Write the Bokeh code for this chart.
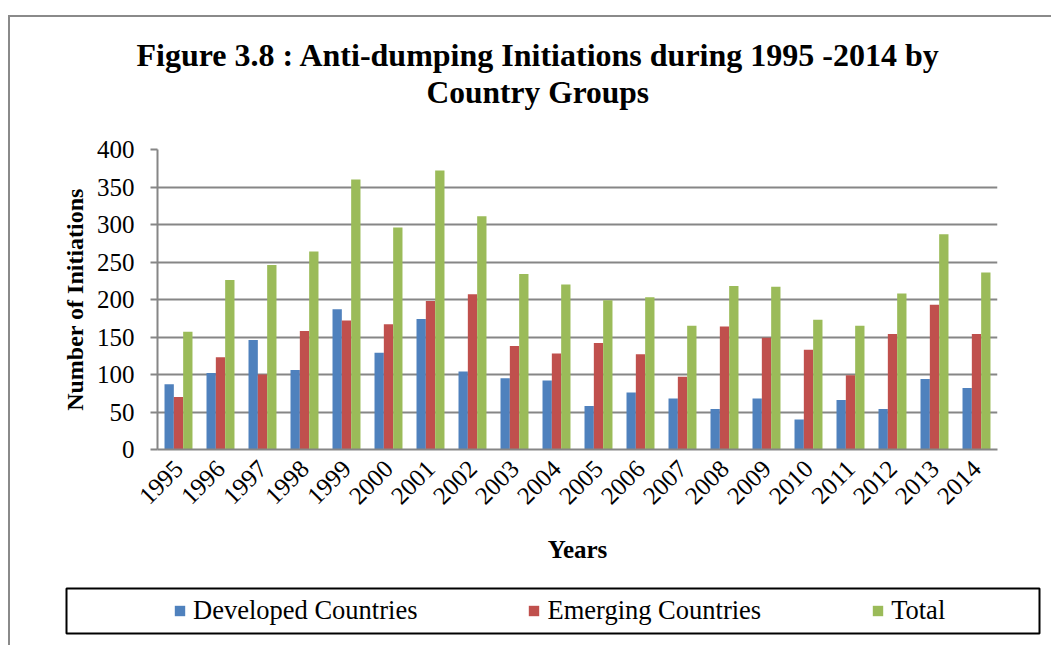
import math
from bokeh.plotting import figure
from bokeh.layouts import column
from bokeh.models import (FactorRange, Range1d, ColumnDataSource, Legend, LegendItem,
                          Title, FixedTicker, LinearAxis)
from bokeh.transform import dodge
from bokeh.embed import file_html
from bokeh.resources import INLINE

# ---- data ----
years = [str(y) for y in range(1995, 2015)]
developed = [87, 102, 146, 106, 187, 129, 174, 104, 95, 92, 58, 76, 68, 54, 68, 40, 66, 54, 94, 82]
emerging = [70, 123, 100, 158, 172, 167, 198, 207, 138, 128, 142, 127, 97, 164, 149, 133, 99, 154, 193, 154]
total = [157, 226, 246, 264, 360, 296, 372, 311, 234, 220, 199, 203, 165, 218, 217, 173, 165, 208, 287, 236]
y_ticks = [0, 50, 100, 150, 200, 250, 300, 350, 400]
series_names = ["Developed Countries", "Emerging Countries", "Total"]

FONT = "Liberation Serif"
BLUE, RED, GREEN = "#4F81BD", "#C0504D", "#9BBB59"
GRID = "#868686"

src = ColumnDataSource(dict(year=years, dev=developed, emg=emerging, tot=total))

p = figure(x_range=FactorRange(factors=years), y_range=Range1d(0, 400),
           width=1041, height=558, output_backend="svg", toolbar_location=None,
           title="Figure 3.8 : Anti-dumping Initiations during 1995 -2014 by",
           min_border_left=147, min_border_right=54, min_border_top=132,
           min_border_bottom=126)
p.frame_align = False
p.background_fill_color = "white"
p.border_fill_color = "white"
p.outline_line_color = None

bw = 0.222
r1 = p.vbar(x=dodge("year", -bw, range=p.x_range), top="dev", width=bw, source=src,
            fill_color=BLUE, line_color=None)
r2 = p.vbar(x=dodge("year", 0.0, range=p.x_range), top="emg", width=bw, source=src,
            fill_color=RED, line_color=None)
r3 = p.vbar(x=dodge("year", bw, range=p.x_range), top="tot", width=bw, source=src,
            fill_color=GREEN, line_color=None)

# axes
p.yaxis.ticker = FixedTicker(ticks=y_ticks)
p.yaxis.major_label_text_font = FONT
p.yaxis.major_label_text_font_size = "25px"
p.yaxis.major_label_text_color = "black"
p.yaxis.major_label_standoff = 16
p.yaxis.axis_label = "Number of Initiations"
p.yaxis.axis_label_text_font = FONT
p.yaxis.axis_label_text_font_size = "24px"
p.yaxis.axis_label_text_font_style = "bold"
p.yaxis.axis_label_text_color = "black"
p.yaxis.axis_label_standoff = 6
p.yaxis.axis_line_color = GRID
p.yaxis.axis_line_width = 2
p.yaxis.major_tick_line_color = GRID
p.yaxis.major_tick_line_width = 2
p.yaxis.major_tick_out = 7
p.yaxis.major_tick_in = 0
p.yaxis.minor_tick_line_color = None

xa = p.below[0]
xa.major_label_orientation = math.pi / 4
xa.major_label_text_font = FONT
xa.major_label_text_font_size = "25px"
xa.major_label_text_color = "black"
xa.major_label_standoff = 9
xa.major_tick_line_color = None
xa.axis_line_color = GRID
xa.axis_line_width = 2
xa.axis_label = "Years"
xa.axis_label_text_font = FONT
xa.axis_label_text_font_size = "25px"
xa.axis_label_text_font_style = "bold"
xa.axis_label_text_color = "black"
xa.axis_label_standoff = 21

p.xgrid.visible = False
p.ygrid.grid_line_color = GRID
p.ygrid.grid_line_width = 2
p.ygrid.ticker = FixedTicker(ticks=y_ticks)

# titles
p.title.text_font = FONT
p.title.text_font_size = "32px"
p.title.text_font_style = "bold"
p.title.align = "left"
p.title.offset = -21
p.title.standoff = 0
p.title.text_color = "black"
t2 = Title(text="Country Groups", align="left", offset=269, standoff=0,
           text_font=FONT, text_font_size="31.5px", text_font_style="bold",
           text_color="black")
try:
    # empty room below the second title line, between it and the plot area
    t2.padding = dict(left=0, right=0, top=0, bottom=40)
except Exception:
    spacer = LinearAxis(ticker=FixedTicker(ticks=[]), axis_line_color=None,
                        major_tick_line_color=None, minor_tick_line_color=None,
                        major_tick_out=0, major_tick_in=0, major_label_standoff=0)
    p.add_layout(spacer, "above")
p.add_layout(t2, "above")

# legend strip: its frame outline is the legend box; the key renderers are hidden
lg = figure(x_range=FactorRange(factors=years), y_range=Range1d(-2, -1),
            width=1041, height=70, output_backend="svg", toolbar_location=None,
            x_axis_location=None, y_axis_location=None,
            min_border_left=56, min_border_right=12, min_border_top=13, min_border_bottom=12)
lg.frame_align = False
lg.outline_line_color = "black"
lg.outline_line_width = 2
lg.background_fill_color = "white"
lg.border_fill_color = "white"
lg.grid.visible = False
k1 = lg.vbar(x="year", top="dev", width=0.2, source=src, fill_color=BLUE, line_color=None)
k2 = lg.vbar(x="year", top="emg", width=0.2, source=src, fill_color=RED, line_color=None)
k3 = lg.vbar(x="year", top="tot", width=0.2, source=src, fill_color=GREEN, line_color=None)
for k in (k1, k2, k3):
    k.visible = False
legend = Legend(items=[LegendItem(label=series_names[0], renderers=[k1]),
                       LegendItem(label=series_names[1], renderers=[k2]),
                       LegendItem(label=series_names[2], renderers=[k3])],
                orientation="horizontal", location=(107, 7), spacing=110, padding=0,
                margin=0, glyph_width=13, glyph_height=13, label_standoff=7,
                label_text_font=FONT, label_text_font_size="26.5px", label_text_color="black",
                border_line_color=None, background_fill_alpha=0)
lg.add_layout(legend, "center")

layout = column(p, lg, spacing=0,
                styles={"margin-left": "8px", "margin-top": "15px",
                        "border-left": "2px solid #8a8a8a", "border-top": "2px solid #8a8a8a"})

open("out.html", "w").write(file_html(layout, INLINE))
